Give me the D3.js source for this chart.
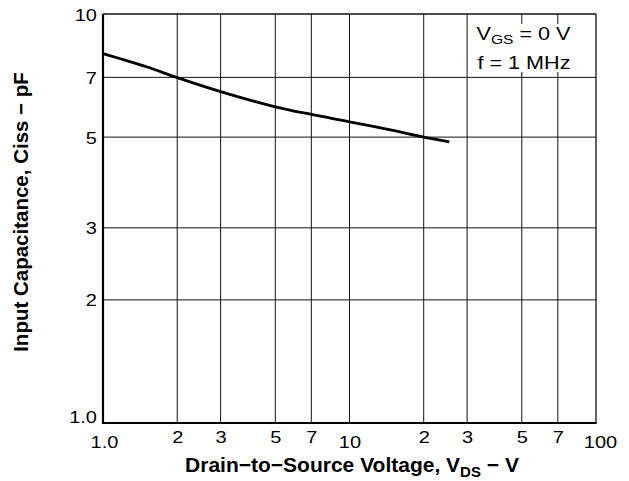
<!DOCTYPE html>
<html>
<head>
<meta charset="utf-8">
<script src="https://cdn.jsdelivr.net/npm/d3@7"></script>
<style>
  body { margin: 0; background: #fff; }
  text { font-family: "Liberation Sans", Arial, Helvetica, sans-serif; fill: #000; }
</style>
</head>
<body>
<div id="chart"></div>
<script>
const width = 629, height = 481;
const margin = { top: 14, right: 33, bottom: 58, left: 103 };

// curve
const vds = [1, 1.5, 2, 3, 5, 7, 10, 15, 20, 25.4];
const ciss = [8.0, 7.43, 6.99, 6.46, 5.93, 5.68, 5.45, 5.19, 5.0, 4.87];

const xGrid = [2, 3, 5, 7, 10, 20, 30, 50, 70];
const yGrid = [2, 3, 5, 7];
const xMinorTicks = [2, 3, 5, 7, 20, 30, 50, 70];
const xDecadeTicks = [1, 10, 100];
const xDecadeLabels = ["1.0", "10", "100"];
const yTicks = [1, 2, 3, 5, 7, 10];
const yTickLabels = ["1.0", "2", "3", "5", "7", "10"];

const svg = d3.select("#chart")
  .append("svg")
  .attr("width", width)
  .attr("height", height);

const xScale = d3.scaleLog()
  .domain([1, 100])
  .range([margin.left, width - margin.right]);

const yScale = d3.scaleLog()
  .domain([1, 10])
  .range([height - margin.bottom, margin.top]);

// grid lines
svg.append("g")
  .selectAll("line")
  .data(xGrid)
  .enter()
  .append("line")
    .attr("x1", d => xScale(d))
    .attr("x2", d => xScale(d))
    .attr("y1", yScale(1))
    .attr("y2", yScale(10))
    .attr("stroke", "#111")
    .attr("stroke-width", 1);

svg.append("g")
  .selectAll("line")
  .data(yGrid)
  .enter()
  .append("line")
    .attr("x1", xScale(1))
    .attr("x2", xScale(100))
    .attr("y1", d => yScale(d))
    .attr("y2", d => yScale(d))
    .attr("stroke", "#111")
    .attr("stroke-width", 1);

// frame: left and bottom heavier
svg.append("line")
  .attr("x1", xScale(1)).attr("x2", xScale(100))
  .attr("y1", yScale(10)).attr("y2", yScale(10))
  .attr("stroke", "#111").attr("stroke-width", 1.3);
svg.append("line")
  .attr("x1", xScale(100)).attr("x2", xScale(100))
  .attr("y1", yScale(1)).attr("y2", yScale(10))
  .attr("stroke", "#111").attr("stroke-width", 1.3);
svg.append("line")
  .attr("x1", xScale(1)).attr("x2", xScale(1))
  .attr("y1", yScale(1) + 1).attr("y2", yScale(10))
  .attr("stroke", "#000").attr("stroke-width", 2.2);
svg.append("line")
  .attr("x1", xScale(1)).attr("x2", xScale(100) + 0.6)
  .attr("y1", yScale(1)).attr("y2", yScale(1))
  .attr("stroke", "#000").attr("stroke-width", 2.2);

// x axis labels
const xAxisMinor = svg.append("g")
  .attr("transform", "translate(0," + yScale(1) + ")")
  .call(d3.axisBottom(xScale).tickValues(xMinorTicks).tickFormat(d => d >= 10 ? d / 10 : d).tickSize(0));
xAxisMinor.select(".domain").remove();
xAxisMinor.selectAll("text")
  .attr("y", 0).attr("dy", null)
  .attr("transform", "translate(0,20) scale(1.25,1)")
  .style("font-size", "16px");

const xAxisDecade = svg.append("g")
  .attr("transform", "translate(0," + yScale(1) + ")")
  .call(d3.axisBottom(xScale).tickValues(xDecadeTicks).tickFormat((d, i) => xDecadeLabels[i]).tickSize(0));
xAxisDecade.select(".domain").remove();
xAxisDecade.selectAll("text")
  .attr("y", 0).attr("dy", null)
  .attr("transform", (d, i) => "translate(" + [1, 0, 4][i] + ",25) scale(1.25,1)")
  .style("font-size", "16px");

// y axis labels
const yAxis = svg.append("g")
  .attr("transform", "translate(" + xScale(1) + ",0)")
  .call(d3.axisLeft(yScale).tickValues(yTicks).tickFormat((d, i) => yTickLabels[i]).tickSize(0));
yAxis.select(".domain").remove();
yAxis.selectAll("text")
  .attr("x", 0).attr("dy", null).attr("y", 0)
  .attr("transform", d => "translate(-6," + (d === 1 ? -1 : 6) + ") scale(1.25,1)")
  .style("font-size", "16px");

xAxisMinor.selectAll("text").attr("fill", "#000");
xAxisDecade.selectAll("text").attr("fill", "#000");
yAxis.selectAll("text").attr("fill", "#000");

// the curve
const line = d3.line()
  .x((d, i) => xScale(vds[i]))
  .y(d => yScale(d))
  .curve(d3.curveCatmullRom);

svg.append("path")
  .datum(ciss)
  .attr("d", line)
  .attr("fill", "none")
  .attr("stroke", "#000")
  .attr("stroke-width", 2.8);

// condition note in upper right
svg.append("rect")
  .attr("x", 474).attr("y", 24)
  .attr("width", 106).attr("height", 48)
  .attr("fill", "#fff");

const note1 = svg.append("text")
  .attr("transform", "translate(476.5,39.5) scale(1.2,1)")
  .style("font-size", "18px");
note1.append("tspan").text("V");
note1.append("tspan").attr("dy", 4).style("font-size", "13px").text("GS");
note1.append("tspan").attr("dy", -4).text(" = 0 V");

svg.append("text")
  .attr("transform", "translate(477.5,69) scale(1.2,1)")
  .style("font-size", "18px")
  .text("f = 1 MHz");

// axis titles
const xTitle = svg.append("text")
  .attr("x", 352)
  .attr("y", 472)
  .attr("text-anchor", "middle")
  .style("font-size", "21px")
  .style("font-weight", "bold");
xTitle.append("tspan").text("Drain\u2212to\u2212Source Voltage, V");
xTitle.append("tspan").attr("dy", 5).style("font-size", "15px").text("DS");
xTitle.append("tspan").attr("dy", -5).text(" \u2212 V");

svg.append("text")
  .attr("transform", "translate(28,212) rotate(-90)")
  .attr("text-anchor", "middle")
  .style("font-size", "20.5px")
  .style("font-weight", "bold")
  .text("Input Capacitance, Ciss \u2212 pF");
</script>
</body>
</html>
